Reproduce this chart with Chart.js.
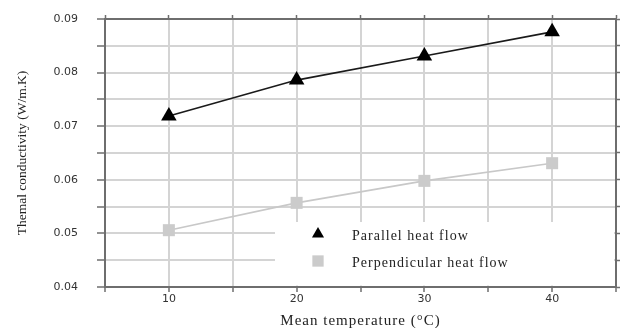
<!DOCTYPE html>
<html>
<head>
<meta charset="utf-8">
<script src="https://cdn.jsdelivr.net/npm/chart.js@4.4.1/dist/chart.umd.min.js"></script>
<style>
  html, body { margin: 0; padding: 0; background: #fff; }
  #wrap { width: 625px; height: 328px; }
</style>
</head>
<body>
<div id="wrap"><canvas id="kChart" width="625" height="328"></canvas></div>
<script>
// ── Données ──────────────────────────────────────────────────────────────
const TEMPS         = [10, 20, 30, 40];
const PARALLEL      = [0.0719, 0.0786, 0.0831, 0.0876];
const PERPENDICULAR = [0.0506, 0.0557, 0.0598, 0.0631];
const SERIES_LABELS = ['Parallel heat flow', 'Perpendicular heat flow'];
const X_TITLE = 'Mean temperature (°C)';
const Y_TITLE = 'Themal conductivity (W/m.K)';

const AXIS  = '#6e6e6e';
const GRIDC = '#d4d4d4';
const SERIF = '"Liberation Serif", "DejaVu Serif", serif';
const SANS  = '"DejaVu Sans", Verdana, sans-serif';

// légende dans la zone du graphique, fond blanc par-dessus la grille
const boxLegend = {
  id: 'boxLegend',
  beforeDatasetsDraw(chart) {
    const { ctx, chartArea: a } = chart;
    ctx.save();
    ctx.fillStyle = '#fff';
    ctx.fillRect(275, 222, a.right - 277, a.bottom - 223.5);
    chart.data.datasets.forEach((ds, i) => {
      const y = 234 + i * 27;
      ctx.fillStyle = ds.pointBackgroundColor;
      ctx.strokeStyle = ds.pointBackgroundColor;
      Chart.helpers.drawPoint(ctx, {
        pointStyle: ds.pointStyle, radius: ds.pointStyle === 'triangle' ? 7 : 8, rotation: 0, borderWidth: 0,
      }, 318, y);
      ctx.fillStyle = '#222';
      ctx.font = '14px ' + SERIF;
      ctx.letterSpacing = '1px';
      ctx.textBaseline = 'middle';
      ctx.fillText(ds.label, 352, y + 2);
    });
    ctx.restore();
  },
  // titres des axes (espacement des lettres comme sur l'original)
  afterDraw(chart) {
    const { ctx, chartArea: a } = chart;
    ctx.save();
    ctx.fillStyle = '#222';
    ctx.textAlign = 'center';
    ctx.textBaseline = 'middle';
    ctx.font = '15px ' + SERIF;
    ctx.letterSpacing = '1px';
    ctx.fillText(X_TITLE, (a.left + a.right) / 2, 321);
    ctx.letterSpacing = '0px';
    ctx.font = '13.5px ' + SERIF;
    ctx.translate(22, (a.top + a.bottom) / 2);
    ctx.rotate(-Math.PI / 2);
    ctx.fillText(Y_TITLE, 0, 0);
    ctx.restore();
  },
};

const showEvery = (v, step) => Math.abs(v / step - Math.round(v / step)) < 1e-6;

new Chart(document.getElementById('kChart'), {
  type: 'line',
  data: {
    datasets: [
      {
        label: SERIES_LABELS[0],
        data: TEMPS.map((t, i) => ({ x: t, y: PARALLEL[i] })),
        borderColor: '#1a1a1a', borderWidth: 1.6,
        pointStyle: 'triangle', pointRadius: 9,
        pointBackgroundColor: '#000', pointBorderColor: '#000', pointBorderWidth: 0,
      },
      {
        label: SERIES_LABELS[1],
        data: TEMPS.map((t, i) => ({ x: t, y: PERPENDICULAR[i] })),
        borderColor: '#c8c8c8', borderWidth: 1.6,
        pointStyle: 'rect', pointRadius: 8.5,
        pointBackgroundColor: '#cbcbcb', pointBorderColor: '#cbcbcb', pointBorderWidth: 0,
      },
    ],
  },
  options: {
    responsive: false, animation: false,
    layout: { padding: 0, autoPadding: false },
    plugins: { legend: { display: false }, tooltip: { enabled: false } },
    scales: {
      x: {
        type: 'linear', position: 'bottom', min: 5, max: 45,
        afterFit: s => { s.height = 41; s.paddingLeft = 0; s.paddingRight = 0; },
        ticks: {
          stepSize: 5, padding: 1, color: '#333', font: { family: SANS, size: 11 },
          maxRotation: 0, autoSkip: false,
          callback: v => showEvery(v, 10) ? String(v) : '',
        },
        grid: { color: GRIDC, lineWidth: 2, tickColor: AXIS, tickLength: 5, tickWidth: 1.5 },
        border: { color: AXIS, width: 2 },
      },
      x2: {
        type: 'linear', position: 'top', min: 5, max: 45,
        afterFit: s => { s.height = 19; },
        ticks: { stepSize: 5, display: false },
        grid: { drawOnChartArea: false, tickColor: AXIS, tickLength: 4, tickWidth: 1.5 },
        border: { color: AXIS, width: 2 },
      },
      y: {
        type: 'linear', position: 'left', min: 0.04, max: 0.09,
        afterFit: s => { s.width = 105; s.paddingTop = 0; s.paddingBottom = 0; },
        ticks: {
          stepSize: 0.005, padding: 19, color: '#333', font: { family: SANS, size: 11 },
          callback: v => showEvery(v, 0.01) ? v.toFixed(2) : '',
        },
        grid: { color: GRIDC, lineWidth: 2, tickColor: AXIS, tickLength: 8, tickWidth: 1.5 },
        border: { color: AXIS, width: 2 },
      },
      y2: {
        type: 'linear', position: 'right', min: 0.04, max: 0.09,
        afterFit: s => { s.width = 9; s.paddingTop = 0; s.paddingBottom = 0; },
        ticks: { stepSize: 0.005, display: false },
        grid: { drawOnChartArea: false, tickColor: AXIS, tickLength: 4, tickWidth: 1.5 },
        border: { color: AXIS, width: 2 },
      },
    },
  },
  plugins: [boxLegend],
});
</script>
</body>
</html>
